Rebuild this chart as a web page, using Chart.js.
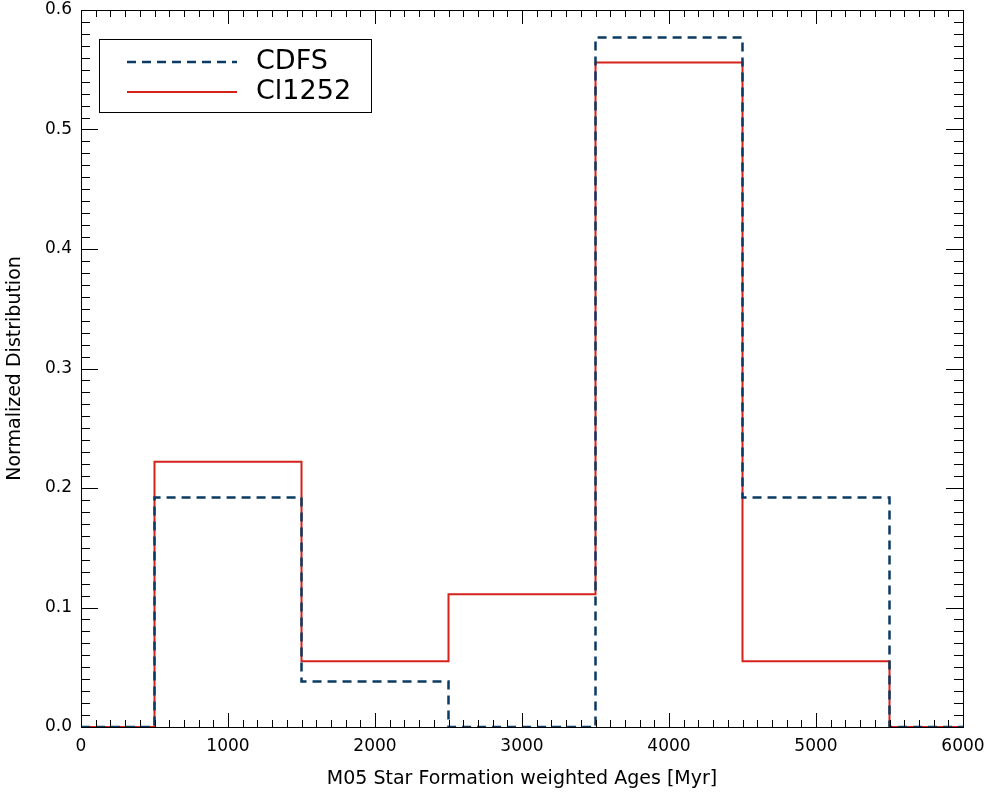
<!DOCTYPE html>
<html>
<head>
<meta charset="utf-8">
<script src="https://cdn.jsdelivr.net/npm/chart.js@4"></script>
<style>
  html, body { margin: 0; padding: 0; background: #fff; }
  #wrap { width: 992px; height: 794px; }
</style>
</head>
<body>
<div id="wrap"><canvas id="histChart" width="992" height="794"></canvas></div>
<script>
// bin edges (Myr) and normalized fractions per bin, last value repeats to close the step
const binEdges = [0, 500, 1500, 2500, 3500, 4500, 5500, 6000];
const cdfsValues = [0, 0.192, 0.038, 0, 0.577, 0.192, 0, 0];
const cl1252Values = [0, 0.222, 0.055, 0.111, 0.556, 0.055, 0, 0];
const seriesLabels = ['CDFS', 'Cl1252'];
const xTicks = [0, 1000, 2000, 3000, 4000, 5000, 6000];
const yTicks = [0.0, 0.1, 0.2, 0.3, 0.4, 0.5, 0.6];

const FONT = '"DejaVu Sans", sans-serif';

const toPoints = vals => binEdges.map((x, i) => ({ x: x, y: vals[i] }));

// draws the box, inward ticks on all 4 sides and the legend
const framePlugin = {
  id: 'frame',
  afterDraw(chart) {
    const { ctx, chartArea: a, scales } = chart;
    const xs = scales.x, ys = scales.y;
    ctx.save();
    ctx.strokeStyle = '#000';
    ctx.lineWidth = 1;
    ctx.strokeRect(a.left + 0.5, a.top + 0.5, a.right - a.left, a.bottom - a.top);

    ctx.beginPath();
    for (let v = 0; v <= 6000; v += 100) {
      const px = Math.round(xs.getPixelForValue(v)) + 0.5;
      const len = v % 1000 === 0 ? 14 : 7;
      ctx.moveTo(px, a.bottom); ctx.lineTo(px, a.bottom - len);
      ctx.moveTo(px, a.top); ctx.lineTo(px, a.top + len);
    }
    for (let i = 0; i <= 60; i++) {
      const py = Math.round(ys.getPixelForValue(i / 100)) + 0.5;
      const len = i % 10 === 0 ? 17 : 9;
      ctx.moveTo(a.left, py); ctx.lineTo(a.left + len, py);
      ctx.moveTo(a.right, py); ctx.lineTo(a.right - len, py);
    }
    ctx.stroke();

    // legend box
    const bx = 99, by = 39, bw = 272, bh = 73;
    ctx.strokeRect(bx + 0.5, by + 0.5, bw, bh);
    ctx.font = '27px ' + FONT;
    ctx.textBaseline = 'middle';
    chart.data.datasets.forEach((ds, i) => {
      const ly = by + 23 + i * 30;
      ctx.beginPath();
      ctx.strokeStyle = ds.borderColor;
      ctx.lineWidth = ds.borderWidth;
      ctx.setLineDash(ds.borderDash || []);
      ctx.moveTo(127, ly); ctx.lineTo(237, ly);
      ctx.stroke();
      ctx.setLineDash([]);
      ctx.fillStyle = '#000';
      ctx.fillText(ds.label, 256, ly);
    });
    ctx.restore();
  }
};

new Chart(document.getElementById('histChart'), {
  type: 'line',
  data: {
    datasets: [
      {
        label: seriesLabels[0],
        data: toPoints(cdfsValues),
        stepped: 'before',
        borderColor: '#0b3a63',
        borderWidth: 2.5,
        borderDash: [9, 6],
        pointRadius: 0,
        fill: false
      },
      {
        label: seriesLabels[1],
        data: toPoints(cl1252Values),
        stepped: 'before',
        borderColor: '#d4231b',
        borderWidth: 2,
        pointRadius: 0,
        fill: false
      }
    ]
  },
  options: {
    responsive: false,
    animation: false,
    layout: { padding: { left: 0, right: 29, top: 10, bottom: 0 } },
    plugins: { legend: { display: false }, tooltip: { enabled: false } },
    scales: {
      x: {
        type: 'linear',
        min: 0,
        max: 6000,
        afterBuildTicks: s => { s.ticks = xTicks.map(v => ({ value: v })); },
        afterFit: s => { s.height = 67; s.paddingLeft = 0; s.paddingRight = 0; },
        grid: { display: false, drawTicks: false },
        border: { display: false },
        ticks: { color: '#000', padding: 9, font: { family: FONT, size: 17 }, maxRotation: 0,
                 callback: v => String(v) },
        title: { display: true, text: 'M05 Star Formation weighted Ages [Myr]', color: '#000',
                 font: { family: FONT, size: 19 }, padding: { top: 1 } }
      },
      y: {
        min: 0,
        max: 0.6,
        afterBuildTicks: s => { s.ticks = yTicks.map(v => ({ value: v })); },
        afterFit: s => { s.width = 81; s.paddingTop = 0; s.paddingBottom = 0; },
        grid: { display: false, drawTicks: false },
        border: { display: false },
        ticks: { color: '#000', padding: 9, font: { family: FONT, size: 17 },
                 callback: v => Number(v).toFixed(1) },
        title: { display: true, text: 'Normalized Distribution', color: '#000',
                 font: { family: FONT, size: 19 }, padding: { bottom: 2 } }
      }
    }
  },
  plugins: [framePlugin]
});
</script>
</body>
</html>
